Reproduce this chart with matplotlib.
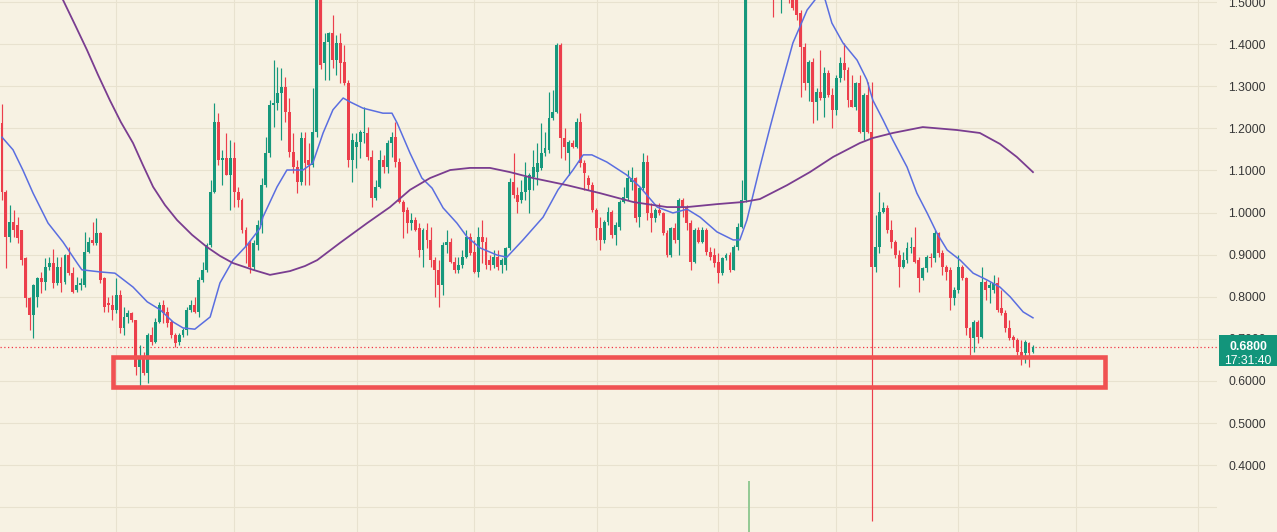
import numpy as np
import matplotlib
matplotlib.use("Agg")
import matplotlib.pyplot as plt
from matplotlib.patches import Rectangle
from matplotlib import transforms

# daily candles (oldest first)
opens = [1.213, 1.049, 0.942, 0.978, 0.970, 0.959, 0.892, 0.797, 0.757, 0.800,
         0.845, 0.835, 0.871, 0.880, 0.833, 0.871, 0.835, 0.899, 0.857, 0.816,
         0.828, 0.828, 0.906, 0.935, 0.928, 0.952, 0.845, 0.785, 0.781, 0.769,
         0.804, 0.726, 0.752, 0.762, 0.745, 0.633, 0.655, 0.619, 0.709, 0.693,
         0.740, 0.781, 0.764, 0.740, 0.709, 0.693, 0.709, 0.721, 0.769, 0.781,
         0.764, 0.840, 0.864, 0.923, 1.049, 1.215, 1.125, 1.130, 1.089, 1.130,
         1.049, 1.030, 0.959, 0.928, 0.871, 0.923, 0.971, 1.066, 1.142, 1.256,
         1.260, 1.284, 1.298, 1.239, 1.144, 1.108, 1.073, 1.177, 1.125, 1.113,
         1.191, 1.560, 1.355, 1.405, 1.427, 1.362, 1.403, 1.358, 1.308, 1.125,
         1.156, 1.168, 1.189, 1.189, 1.132, 1.035, 1.061, 1.125, 1.108, 1.165,
         1.180, 1.120, 1.025, 1.006, 0.975, 0.983, 0.964, 0.911, 0.959, 0.935,
         0.888, 0.864, 0.828, 0.923, 0.930, 0.883, 0.864, 0.876, 0.895, 0.942,
         0.906, 0.859, 0.942, 0.930, 0.888, 0.876, 0.895, 0.876, 0.876, 0.916,
         1.073, 1.042, 1.030, 1.049, 1.054, 1.085, 1.097, 1.106, 1.142, 1.149,
         1.225, 1.239, 1.398, 1.177, 1.142, 1.165, 1.156, 1.215, 1.118, 1.082,
         1.066, 1.006, 0.964, 0.935, 0.978, 1.001, 0.947, 0.966, 1.025, 1.035,
         1.073, 1.082, 0.990, 1.059, 1.120, 0.999, 0.987, 1.006, 0.999, 0.952,
         0.899, 0.964, 0.935, 1.030, 1.011, 0.975, 0.883, 0.959, 0.930, 0.959,
         0.906, 0.899, 0.883, 0.857, 0.892, 0.899, 0.864, 0.918, 0.966, 1.030,
         1.950, 1.850, 1.980, 1.800, 1.720, 1.820, 1.620, 1.560, 1.600, 1.660,
         1.580, 1.560, 1.520, 1.474, 1.393, 1.308, 1.358, 1.263, 1.287, 1.272,
         1.332, 1.279, 1.244, 1.320, 1.355, 1.339, 1.267, 1.251, 1.308, 1.191,
         1.279, 1.191, 0.871, 0.918, 1.001, 1.011, 0.959, 0.930, 0.899, 0.871,
         0.888, 0.916, 0.918, 0.888, 0.845, 0.869, 0.895, 0.892, 0.952, 0.904,
         0.871, 0.864, 0.797, 0.816, 0.871, 0.845, 0.726, 0.702, 0.740, 0.705,
         0.835, 0.821, 0.816, 0.833, 0.774, 0.762, 0.726, 0.705, 0.698, 0.669,
         0.666, 0.690, 0.669]
highs = [1.258, 1.054, 1.018, 1.006, 0.990, 0.959, 0.895, 0.800, 0.830, 0.847,
         0.859, 0.892, 0.895, 0.913, 0.895, 0.895, 0.902, 0.918, 0.871, 0.847,
         0.845, 0.954, 0.942, 0.978, 0.987, 0.954, 0.847, 0.800, 0.804, 0.845,
         0.816, 0.776, 0.769, 0.764, 0.745, 0.686, 0.669, 0.714, 0.728, 0.750,
         0.788, 0.793, 0.776, 0.745, 0.714, 0.714, 0.726, 0.776, 0.793, 0.800,
         0.847, 0.883, 0.928, 1.078, 1.260, 1.237, 1.149, 1.189, 1.172, 1.168,
         1.061, 1.035, 0.966, 0.935, 0.935, 0.983, 1.082, 1.180, 1.267, 1.362,
         1.346, 1.344, 1.322, 1.272, 1.189, 1.125, 1.191, 1.191, 1.165, 1.296,
         1.600, 1.580, 1.426, 1.429, 1.469, 1.422, 1.427, 1.398, 1.315, 1.189,
         1.189, 1.196, 1.251, 1.203, 1.149, 1.078, 1.149, 1.137, 1.172, 1.191,
         1.215, 1.130, 1.030, 1.013, 0.999, 0.990, 0.975, 0.964, 0.975, 0.966,
         0.895, 0.888, 0.930, 0.959, 0.940, 0.895, 0.895, 0.911, 0.959, 0.952,
         0.935, 0.966, 0.983, 0.942, 0.899, 0.911, 0.911, 0.892, 0.918, 1.082,
         1.142, 1.061, 1.078, 1.120, 1.094, 1.149, 1.165, 1.213, 1.191, 1.286,
         1.291, 1.403, 1.403, 1.201, 1.172, 1.172, 1.225, 1.237, 1.125, 1.089,
         1.073, 1.011, 0.990, 0.983, 1.013, 1.006, 0.978, 1.030, 1.061, 1.101,
         1.108, 1.085, 1.061, 1.142, 1.137, 1.023, 1.011, 1.023, 1.001, 0.959,
         0.966, 0.975, 1.035, 1.035, 1.018, 0.983, 0.964, 0.966, 0.966, 0.964,
         0.918, 0.916, 0.904, 0.895, 0.904, 0.906, 0.923, 0.975, 1.078, 2.000,
         2.050, 2.050, 2.020, 1.860, 1.880, 1.840, 1.660, 1.700, 1.700, 1.680,
         1.620, 1.580, 1.540, 1.481, 1.403, 1.362, 1.367, 1.296, 1.386, 1.346,
         1.339, 1.296, 1.327, 1.370, 1.403, 1.346, 1.327, 1.310, 1.327, 1.284,
         1.310, 1.310, 0.994, 1.049, 1.025, 1.018, 0.983, 0.935, 0.911, 0.906,
         0.930, 0.942, 0.966, 0.895, 0.871, 0.899, 0.904, 0.959, 0.954, 0.911,
         0.876, 0.871, 0.823, 0.899, 0.876, 0.847, 0.728, 0.745, 0.745, 0.871,
         0.840, 0.835, 0.852, 0.847, 0.816, 0.769, 0.745, 0.709, 0.702, 0.697,
         0.697, 0.693, 0.686]
lows = [1.030, 0.869, 0.930, 0.942, 0.928, 0.876, 0.776, 0.721, 0.702, 0.776,
        0.809, 0.816, 0.864, 0.821, 0.828, 0.811, 0.830, 0.852, 0.809, 0.811,
        0.816, 0.823, 0.904, 0.923, 0.923, 0.833, 0.764, 0.764, 0.745, 0.762,
        0.714, 0.709, 0.738, 0.740, 0.614, 0.583, 0.614, 0.595, 0.686, 0.690,
        0.738, 0.738, 0.728, 0.702, 0.681, 0.686, 0.705, 0.709, 0.764, 0.762,
        0.752, 0.835, 0.859, 0.918, 1.047, 1.113, 1.066, 1.089, 1.006, 1.013,
        1.013, 0.952, 0.880, 0.857, 0.864, 0.911, 0.952, 1.061, 1.132, 1.203,
        1.244, 1.173, 1.215, 1.132, 1.094, 1.047, 1.066, 1.066, 1.066, 1.108,
        1.180, 1.340, 1.315, 1.315, 1.343, 1.327, 1.308, 1.303, 1.108, 1.073,
        1.106, 1.130, 1.165, 1.125, 1.013, 1.030, 1.059, 1.094, 1.094, 1.132,
        1.108, 1.023, 0.940, 0.952, 0.959, 0.955, 0.895, 0.871, 0.916, 0.871,
        0.800, 0.776, 0.804, 0.904, 0.880, 0.857, 0.857, 0.869, 0.892, 0.899,
        0.857, 0.847, 0.880, 0.866, 0.864, 0.869, 0.864, 0.857, 0.864, 0.911,
        1.035, 1.000, 1.023, 1.030, 1.000, 1.054, 1.066, 1.101, 1.135, 1.142,
        1.220, 1.237, 1.130, 1.125, 1.089, 1.154, 1.154, 1.108, 1.054, 1.054,
        1.001, 0.935, 0.911, 0.928, 0.971, 0.940, 0.923, 0.959, 1.023, 1.030,
        1.054, 0.978, 0.966, 1.054, 0.983, 0.954, 0.978, 0.994, 0.947, 0.895,
        0.895, 0.928, 0.899, 0.990, 0.959, 0.864, 0.880, 0.928, 0.928, 0.899,
        0.888, 0.871, 0.833, 0.852, 0.888, 0.859, 0.864, 0.911, 0.964, 1.025,
        1.800, 1.780, 1.700, 1.620, 1.660, 1.580, 1.464, 1.530, 1.474, 1.540,
        1.497, 1.480, 1.457, 1.275, 1.291, 1.265, 1.213, 1.220, 1.267, 1.227,
        1.275, 1.201, 1.232, 1.310, 1.315, 1.251, 1.251, 1.244, 1.189, 1.172,
        1.189, 0.268, 0.859, 0.904, 0.999, 0.952, 0.916, 0.892, 0.823, 0.869,
        0.880, 0.904, 0.880, 0.812, 0.840, 0.859, 0.871, 0.883, 0.895, 0.852,
        0.840, 0.769, 0.781, 0.809, 0.840, 0.709, 0.662, 0.669, 0.690, 0.702,
        0.793, 0.786, 0.809, 0.764, 0.757, 0.716, 0.698, 0.681, 0.662, 0.638,
        0.643, 0.633, 0.666]
closes = [1.049, 0.942, 0.978, 0.959, 0.940, 0.888, 0.797, 0.757, 0.828, 0.845,
          0.835, 0.871, 0.880, 0.833, 0.871, 0.833, 0.899, 0.857, 0.812, 0.828,
          0.833, 0.906, 0.930, 0.928, 0.952, 0.840, 0.776, 0.781, 0.769, 0.804,
          0.726, 0.752, 0.762, 0.745, 0.633, 0.655, 0.619, 0.709, 0.693, 0.740,
          0.781, 0.762, 0.738, 0.709, 0.690, 0.709, 0.721, 0.769, 0.781, 0.764,
          0.840, 0.864, 0.923, 1.049, 1.215, 1.125, 1.130, 1.089, 1.130, 1.049,
          1.030, 0.959, 0.918, 0.871, 0.928, 0.971, 1.066, 1.142, 1.256, 1.260,
          1.284, 1.298, 1.239, 1.144, 1.108, 1.073, 1.177, 1.118, 1.113, 1.191,
          1.560, 1.351, 1.405, 1.427, 1.362, 1.403, 1.355, 1.308, 1.125, 1.173,
          1.168, 1.191, 1.191, 1.132, 1.035, 1.061, 1.125, 1.108, 1.165, 1.180,
          1.120, 1.025, 1.001, 0.975, 0.983, 0.959, 0.911, 0.959, 0.935, 0.888,
          0.864, 0.828, 0.923, 0.930, 0.883, 0.864, 0.876, 0.895, 0.942, 0.904,
          0.859, 0.942, 0.930, 0.876, 0.876, 0.895, 0.871, 0.888, 0.916, 1.073,
          1.042, 1.025, 1.049, 1.085, 1.089, 1.108, 1.118, 1.142, 1.154, 1.225,
          1.239, 1.398, 1.177, 1.156, 1.168, 1.156, 1.215, 1.118, 1.094, 1.066,
          1.006, 0.964, 0.935, 0.978, 1.001, 0.947, 0.971, 1.025, 1.037, 1.082,
          1.082, 0.987, 1.059, 1.120, 0.999, 0.987, 1.006, 0.999, 0.952, 0.899,
          0.964, 0.935, 1.030, 1.011, 0.975, 0.883, 0.959, 0.930, 0.959, 0.906,
          0.894, 0.880, 0.857, 0.892, 0.899, 0.864, 0.918, 0.966, 1.030, 1.950,
          1.850, 1.980, 1.800, 1.720, 1.820, 1.620, 1.560, 1.640, 1.660, 1.580,
          1.550, 1.486, 1.470, 1.393, 1.308, 1.358, 1.263, 1.287, 1.272, 1.332,
          1.279, 1.244, 1.320, 1.355, 1.339, 1.267, 1.251, 1.308, 1.191, 1.279,
          1.191, 0.871, 0.918, 1.001, 1.011, 0.959, 0.930, 0.899, 0.871, 0.888,
          0.916, 0.918, 0.883, 0.845, 0.869, 0.895, 0.892, 0.952, 0.904, 0.871,
          0.859, 0.797, 0.816, 0.871, 0.845, 0.726, 0.702, 0.740, 0.705, 0.835,
          0.816, 0.828, 0.833, 0.769, 0.762, 0.726, 0.702, 0.698, 0.669, 0.657,
          0.693, 0.666, 0.680]

# moving averages (bar index, price)
fast_ma_idx = [0, 2.8, 5.3, 7.9, 11.7, 15.5, 19.1, 20.3, 24.9, 28.7, 33.3, 36.9, 40.2,
               43.5, 46.0, 49.0, 52.9, 55.4, 58.7, 62.3, 65.6, 66.3, 69.9, 72.4, 74.0,
               76.5, 79.0, 81.6, 84.1, 86.7, 88.4, 91.7, 96.8, 99.1, 100.4, 103.7, 106.7,
               109.3, 112.1, 115.6, 118.2, 121.5, 125.8, 128.3, 132.4, 137.5, 141.3,
               145.1, 147.7, 149.9, 153.7, 158.8, 162.1, 166.5, 170.5, 174.1, 177.4,
               181.7, 185.8, 187.5, 189.3, 192.6, 195.2, 197.7, 201.0, 204.6, 206.6,
               207.9, 209.2, 210.9, 213.7, 217.3, 219.8, 221.3, 223.9, 226.4, 230.0,
               232.5, 235.1, 237.6, 240.2, 243.5, 246.8, 250.3, 253.6, 256.2, 259.5, 262.0]
fast_ma = [1.179, 1.149, 1.101, 1.046, 0.975, 0.930, 0.880, 0.864, 0.859, 0.856, 0.823,
           0.788, 0.769, 0.740, 0.726, 0.723, 0.752, 0.833, 0.887, 0.923, 0.963, 0.989,
           1.061, 1.101, 1.101, 1.101, 1.118, 1.189, 1.244, 1.272, 1.263, 1.248, 1.236,
           1.236, 1.213, 1.141, 1.082, 1.058, 1.011, 0.975, 0.942, 0.916, 0.899, 0.894,
           0.935, 0.989, 1.054, 1.101, 1.137, 1.137, 1.120, 1.089, 1.061, 1.013, 0.999,
           1.008, 0.989, 0.954, 0.935, 0.935, 0.982, 1.108, 1.203, 1.291, 1.403, 1.481,
           1.505, 1.524, 1.505, 1.450, 1.403, 1.362, 1.315, 1.267, 1.220, 1.172, 1.108,
           1.046, 0.999, 0.951, 0.911, 0.887, 0.856, 0.840, 0.823, 0.800, 0.764, 0.750]
slow_ma_idx = [0, 9.7, 15.5, 18.6, 21.6, 24.4, 27.4, 30.2, 33.3, 35.8, 38.4, 41.4, 44.5,
               48.3, 52.1, 55.4, 58.7, 63.8, 68.1, 73.2, 77.0, 80.1, 85.9, 92.8, 98.6,
               103.7, 108.8, 113.9, 118.9, 124.0, 129.1, 134.9, 143.6, 152.0, 160.4,
               169.0, 174.1, 181.7, 188.3, 192.6, 199.5, 205.3, 211.2, 218.0, 221.3,
               226.4, 234.0, 242.7, 248.5, 253.6, 257.9, 262.0]
slow_ma = [1.766, 1.624, 1.505, 1.445, 1.386, 1.327, 1.267, 1.215, 1.165, 1.113, 1.061,
           1.018, 0.982, 0.947, 0.918, 0.897, 0.880, 0.864, 0.852, 0.861, 0.873, 0.887,
           0.928, 0.975, 1.013, 1.054, 1.082, 1.101, 1.106, 1.106, 1.096, 1.082, 1.065,
           1.046, 1.025, 1.013, 1.013, 1.020, 1.025, 1.032, 1.065, 1.096, 1.132, 1.165,
           1.177, 1.189, 1.203, 1.196, 1.189, 1.163, 1.132, 1.096]

price_ticks = [0.3, 0.4, 0.5, 0.6, 0.7, 0.8, 0.9, 1.0, 1.1, 1.2, 1.3, 1.4, 1.5]
month_lines = [28.97, 58.96, 90.2, 119.95, 151.2, 181.96, 211.9, 242.9, 272.9, 303.9]
last_price = 0.68
countdown = "17:31:40"
zone_low, zone_high = 0.585, 0.657
zone_start, zone_end = 28.1, 280.4
stray_bar = 189.8
stray_low, stray_high = 0.241, 0.363

BG = '#f7f2e3'
GRID = '#e8e2cf'
UP = '#16987c'
DOWN = '#ec3f4c'

plt.rcParams['font.family'] = ['Liberation Sans', 'DejaVu Sans']

fig = plt.figure(figsize=(12.77, 5.32), dpi=100)
fig.patch.set_facecolor(BG)
ax = fig.add_axes([0, 0, 1217 / 1277, 1])
ax.set_facecolor(BG)

o = np.array(opens)
h = np.array(highs)
l = np.array(lows)
c = np.array(closes)
idx = np.arange(len(o))
cols = np.where(c >= o, UP, DOWN)

ax.vlines(idx, l, h, colors=cols, linewidth=0.85, zorder=3)
ax.bar(idx, np.maximum(np.abs(c - o), 0.0025), bottom=np.minimum(o, c),
       width=0.74, color=cols, linewidth=0, zorder=4)

ax.plot(fast_ma_idx, fast_ma, color='#5a6ee0', linewidth=1.1, zorder=5)
ax.plot(slow_ma_idx, slow_ma, color='#7a3d90', linewidth=1.3, zorder=5)

ax.vlines(stray_bar, stray_low, stray_high, colors='#93c993', linewidth=1.4, zorder=3)

ax.axhline(last_price, color='#f23645', linestyle=(0, (1, 2)), linewidth=0.9, zorder=2)

ax.add_patch(Rectangle((zone_start, zone_low), zone_end - zone_start, zone_high - zone_low,
                       fill=False, edgecolor='#f05252', linewidth=3.3, zorder=6))

ax.set_xlim(-0.508, 308.77)
ax.set_ylim(0.2413, 1.5048)
ax.set_xticks(month_lines)
ax.set_yticks(price_ticks)
ax.set_yticklabels(['' if v < 0.35 else f'{v:.4f}' for v in price_ticks])
ax.yaxis.tick_right()
ax.tick_params(axis='x', length=0, labelbottom=False)
ax.tick_params(axis='y', length=0, pad=8, labelsize=8.8, labelcolor='#373737')
ax.grid(True, color=GRID, linewidth=0.8, zorder=0)
for s in ax.spines.values():
    s.set_visible(False)

# last-price badge on the price scale (covers most of the 0.7000 label, as in the original)
tr = transforms.blended_transform_factory(fig.transFigure, ax.transData)
badge = Rectangle((1219 / 1277, 0.6354), 58 / 1277, 0.0731, transform=tr,
                  facecolor='#12957b', edgecolor='none', zorder=10)
fig.add_artist(badge)
fig.text(1248 / 1277, last_price, f'{last_price:.4f}', transform=tr, color='white',
         fontsize=8.8, fontweight='bold', ha='center', va='center', zorder=11)
fig.text(1248 / 1277, 0.6475, countdown, transform=tr, color='white',
         fontsize=8.8, ha='center', va='center', zorder=11)

fig.savefig('out.png', dpi=100, facecolor=BG)
